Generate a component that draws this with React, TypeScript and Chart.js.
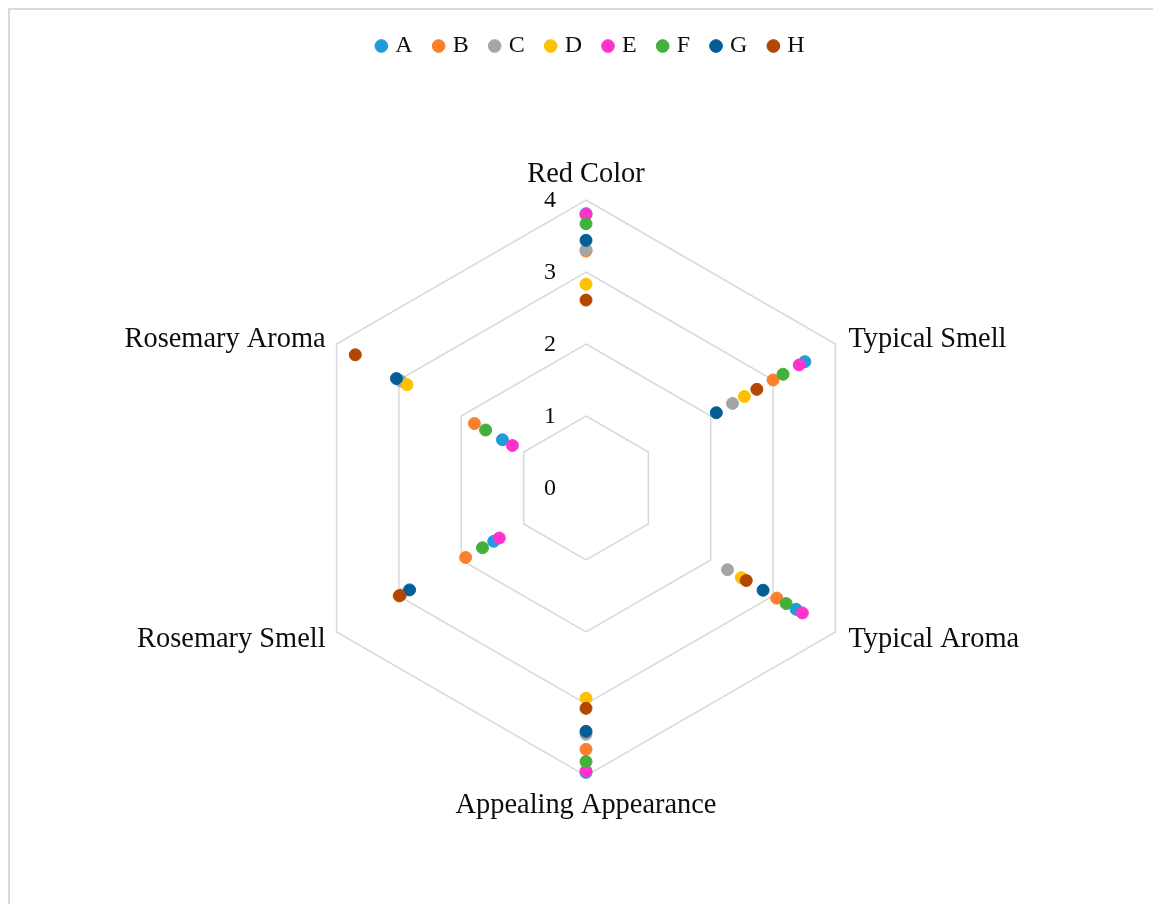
import React, { useEffect, useRef } from "react";
import { Chart, registerables } from "chart.js";

Chart.register(...registerables);

const categories = [
  "Red Color",
  "Typical Smell",
  "Typical Aroma",
  "Appealing Appearance",
  "Rosemary Smell",
  "Rosemary Aroma",
];

const seriesNames = ["A", "B", "C", "D", "E", "F", "G", "H"];

const seriesA = [3.81, 3.51, 3.37, 3.95, 1.48, 1.34];
const seriesB = [3.29, 3.0, 3.06, 3.63, 1.93, 1.79];
const seriesC = [3.31, 2.35, 2.27, 3.42, 2.97, 2.97];
const seriesD = [2.83, 2.54, 2.49, 2.92, 3.0, 2.87];
const seriesE = [3.8, 3.42, 3.47, 3.93, 1.39, 1.18];
const seriesF = [3.67, 3.16, 3.21, 3.8, 1.66, 1.61];
const seriesG = [3.44, 2.09, 2.84, 3.38, 2.83, 3.04];
const seriesH = [2.61, 2.74, 2.57, 3.06, 2.99, 3.7];

const seriesValues = [seriesA, seriesB, seriesC, seriesD, seriesE, seriesF, seriesG, seriesH];

const seriesColors = [
  "#1f9ddb",
  "#fd7f2c",
  "#a5a5a5",
  "#ffc000",
  "#ff33cc",
  "#43b03c",
  "#045e96",
  "#b34600",
];

const axisMin = 0;
const axisMax = 4;
const axisStep = 1;

const FONT = '"Liberation Serif", "Times New Roman", serif';
const TEXT = "#0d0d0d";

const labelPlugin = {
  id: "excelStyleLabels",
  beforeDatasetsDraw(chart: any) {
    const s = chart.scales.r;
    const ctx = chart.ctx;
    ctx.save();
    ctx.fillStyle = TEXT;
    // tick labels, placed left of the vertical axis
    ctx.font = `24px ${FONT}`;
    ctx.textAlign = "center";
    ctx.textBaseline = "middle";
    s.ticks.forEach((t: any) => {
      const d = s.getDistanceFromCenterForValue(t.value);
      ctx.fillText(String(t.value), s.xCenter - 36, s.yCenter - d + 1);
    });
    // category labels
    ctx.font = `28.4px ${FONT}`;
    ctx.textBaseline = "alphabetic";
    categories.forEach((lab, i) => {
      const p = s.getPointPosition(i, s.drawingArea);
      const dx = p.x - s.xCenter;
      const dy = p.y - s.yCenter;
      let x = p.x;
      let y = p.y;
      if (Math.abs(dx) < 1) {
        ctx.textAlign = "center";
        y = dy < 0 ? p.y - 18 : p.y + 37;
      } else {
        ctx.textAlign = dx > 0 ? "left" : "right";
        x = p.x + (dx > 0 ? 13 : -11);
        y = dy < 0 ? p.y + 3 : p.y + 15;
      }
      ctx.fillText(lab, x, y);
    });
    ctx.restore();
  },
};

export default function App() {
  const canvasRef = useRef<HTMLCanvasElement | null>(null);

  useEffect(() => {
    if (!canvasRef.current) return;
    const n = seriesNames.length;
    const chart = new Chart(canvasRef.current, {
      type: "radar",
      data: {
        labels: categories,
        datasets: seriesNames.map((name, i) => ({
          label: name,
          data: seriesValues[i],
          backgroundColor: seriesColors[i],
          borderColor: seriesColors[i],
          pointBackgroundColor: seriesColors[i],
          pointBorderColor: seriesColors[i],
          pointRadius: 6,
          pointBorderWidth: 1,
          pointHoverRadius: 6,
          showLine: false,
          fill: false,
          borderWidth: 0,
          order: n - i,
        })),
      },
      plugins: [labelPlugin],
      options: {
        responsive: false,
        animation: false,
        devicePixelRatio: 1,
        layout: {
          padding: { top: 10, left: 31, right: 0, bottom: 128 },
        },
        plugins: {
          legend: {
            display: true,
            position: "top",
            labels: {
              usePointStyle: true,
              boxWidth: 4,
              boxHeight: 9,
              padding: 24,
              color: TEXT,
              font: { family: FONT, size: 24 },
              sort: (a: any, b: any) => a.datasetIndex - b.datasetIndex,
            },
          },
          title: {
            display: true,
            text: "",
            weight: 500,
            padding: { top: 132, bottom: 0 },
            font: { size: 1, lineHeight: 0 },
          } as any,
          subtitle: {
            display: true,
            text: "",
            position: "right",
            padding: { top: 12, bottom: 0 },
            font: { size: 1, lineHeight: 0 },
          } as any,
          tooltip: { enabled: false },
        },
        scales: {
          r: {
            min: axisMin,
            max: axisMax,
            ticks: { stepSize: axisStep, display: false },
            grid: { color: "#d9d9d9", lineWidth: 1.5, circular: false },
            angleLines: { display: false },
            pointLabels: { display: false },
          },
        },
      },
    });
    return () => chart.destroy();
  }, []);

  return (
    <div style={{ position: "fixed", left: 0, top: 0, width: 1153, height: 904, overflow: "hidden", background: "#ffffff" }}>
      <div
        style={{
          position: "absolute",
          left: 8,
          top: 8,
          width: 1300,
          height: 1100,
          borderTop: "2px solid #dadada",
          borderLeft: "2px solid #dadada",
          boxSizing: "border-box",
        }}
      />
      <canvas
        ref={canvasRef}
        width={1153}
        height={904}
        style={{ position: "absolute", left: 0, top: 0, display: "block" }}
      />
    </div>
  );
}
